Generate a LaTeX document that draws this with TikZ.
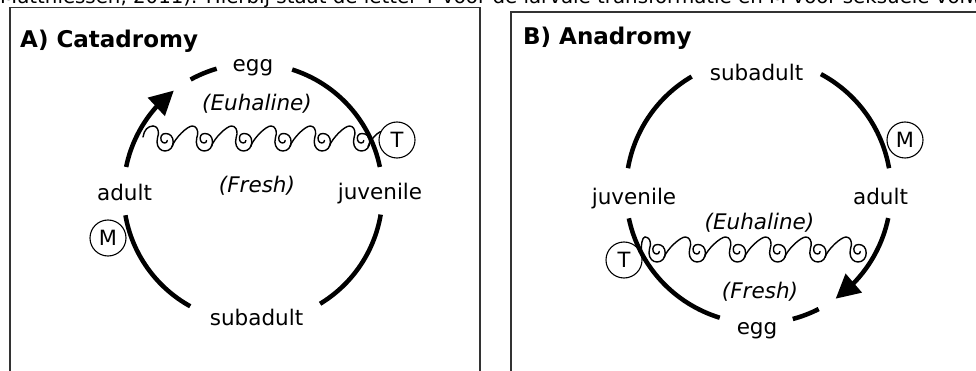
\documentclass[tikz,border=0pt]{standalone}
\usepackage{fontspec}
\setmainfont{DejaVu Sans}
\usetikzlibrary{arrows.meta,bending}

\tikzset{
  wave/.style={line width=1.4pt, line join=round, line cap=round},
  % crest of a breaking wave that rolls into a small spiral
  wavehead/.pic={
    \draw[wave] (-12,-15) .. controls (-8,-15) and (-6.3,-11) .. (-6.6,-7)
      .. controls (-6.9,-4) and (-8.2,-2.5) .. (-8,1)
      .. controls (-7.8,6.5) and (-4.3,10) .. (0,10)
      .. controls (5,10) and (8.2,6) .. (8.2,1)
      .. controls (8.2,-4.5) and (5,-7.5) .. (0.5,-7.5)
      .. controls (-3.3,-7.5) and (-5,-4.2) .. (-3.8,-0.5)
      .. controls (-2.7,2.8) and (2.3,2.8) .. (2.3,-0.5);
  },
  % steep rise out of the previous spiral, then the same crest and spiral
  wavestep/.pic={
    \draw[wave] (7-\wavegap,5.5) .. controls (10-\wavegap,-3) and (-17,-15) .. (-12,-15)
      .. controls (-8,-15) and (-6.3,-11) .. (-6.6,-7)
      .. controls (-6.9,-4) and (-8.2,-2.5) .. (-8,1)
      .. controls (-7.8,6.5) and (-4.3,10) .. (0,10)
      .. controls (5,10) and (8.2,6) .. (8.2,1)
      .. controls (8.2,-4.5) and (5,-7.5) .. (0.5,-7.5)
      .. controls (-3.3,-7.5) and (-5,-4.2) .. (-3.8,-0.5)
      .. controls (-2.7,2.8) and (2.3,2.8) .. (2.3,-0.5);
  },
}

\begin{document}
\begin{tikzpicture}[x=1pt, y=-1pt,
  lbl/.style={font=\fontsize{21.5}{24}\selectfont, inner sep=0pt},
  salt/.style={font=\fontsize{21.5}{24}\selectfont\itshape, inner sep=0pt},
  paneltitle/.style={font=\fontsize{23}{26}\selectfont\bfseries, anchor=base west, inner sep=0pt},
  stage/.style={circle, draw, line width=1.1pt, minimum size=36pt, inner sep=0pt,
                font=\fontsize{21}{24}\selectfont},
  cycleline/.style={line width=4.5pt},
  frame/.style={line width=1.2pt, draw=black!80},
  bigtip/.style={-{Triangle[length=24pt,width=24pt]}}
]
\useasboundingbox (0,0) rectangle (976,371);
\clip (0,0) rectangle (976,371);

% running text above the two panels
\node[anchor=base west, inner sep=0pt, font=\fontsize{19.8}{22}\selectfont] (caption) at (0,3.5)
  {Matthiessen, 2011). Hierbij staat de letter T voor de larvale transformatie en M voor seksuele volwassenheid};

% panel frames
\draw[frame] (10,380) -- (10,7.5) -- (480,7.5) -- (480,380);
\draw[frame, line width=1.6pt] (511,380) -- (511,12) -- (990,12);

% ---------------- A) Catadromy ----------------
\coordinate (cA) at (253,193);
\node[paneltitle] (titleA) at (20,48) {A) Catadromy};

% boundary between salt and fresh water
\def\wavegap{39.3}
\draw[wave] (143,137) .. controls (144,130) and (148,126) .. (153,126);
\pic at (165,141) {wavehead};
\foreach \k in {1,...,5} \pic at ({165+39.3*\k},141) {wavestep};

\node[lbl] (eggA) at (253,68) {egg};
\node[lbl] (adultA) at (124.5,192.5) {adult};
\node[lbl] (juvA) at (380,194) {juvenile};
\node[lbl] (subA) at (256.5,317.5) {subadult};
\node[salt] (euA) at (257,103.5) {(Euhaline)};
\node[salt] (frA) at (257,185.5) {(Fresh)};
\node[stage] (MA) at (108,238) {M};
\node[stage] (TA) at (397,140) {T};

\draw[wave] (368,146.5) .. controls (371,139) and (376,134) .. (TA.153);

\draw[cycleline, bigtip] (cA) ++(-168.4:129.5) arc[start angle=-168.4, end angle=-127.7, radius=129.5];
\draw[cycleline] (cA) ++(-106.3:129.5) arc[start angle=-106.3, end angle=-118.8, radius=129.5];
\draw[cycleline] (cA) ++(-72.4:129.5) arc[start angle=-72.4, end angle=-11.6, radius=129.5];
\draw[cycleline] (cA) ++(9.6:129.5) arc[start angle=9.6, end angle=58.8, radius=129.5];
\draw[cycleline] (cA) ++(-189.9:129.5) arc[start angle=-189.9, end angle=-241, radius=129.5];

% ---------------- B) Anadromy ----------------
\coordinate (cB) at (758.5,191);
\node[paneltitle] (titleB) at (523,45) {B) Anadromy};

\node[lbl] (subB) at (756.5,72.5) {subadult};
\node[lbl] (juvB) at (634,198.5) {juvenile};
\node[lbl] (adultB) at (880.5,196) {adult};
\node[lbl] (eggB) at (757,331) {egg};
\node[salt] (euB) at (759.5,222.5) {(Euhaline)};
\node[salt] (frB) at (760,291.5) {(Fresh)};
\node[stage] (MB) at (905,140) {M};
\node[stage] (TB) at (624,260) {T};

\def\wavegap{40.2}
\draw[wave] (TB.20) .. controls (641,245) and (642,237) .. (645,237);
\pic at (657,252) {wavehead};
\foreach \k in {1,...,5} \pic at ({657+40.2*\k},252) {wavestep};

\draw[cycleline] (cB) ++(-170.1:132.5) arc[start angle=-170.1, end angle=-120.3, radius=132.5];
\draw[cycleline] (cB) ++(-61.9:132.5) arc[start angle=-61.9, end angle=-9.9, radius=132.5];
\draw[cycleline, bigtip] (cB) ++(11.8:132.5) arc[start angle=11.8, end angle=54.4, radius=132.5];
\draw[cycleline] (cB) ++(63:132.5) arc[start angle=63, end angle=75, radius=132.5];
\draw[cycleline] (cB) ++(-191.9:132.5) arc[start angle=-191.9, end angle=-253, radius=132.5];
\end{tikzpicture}
\end{document}
